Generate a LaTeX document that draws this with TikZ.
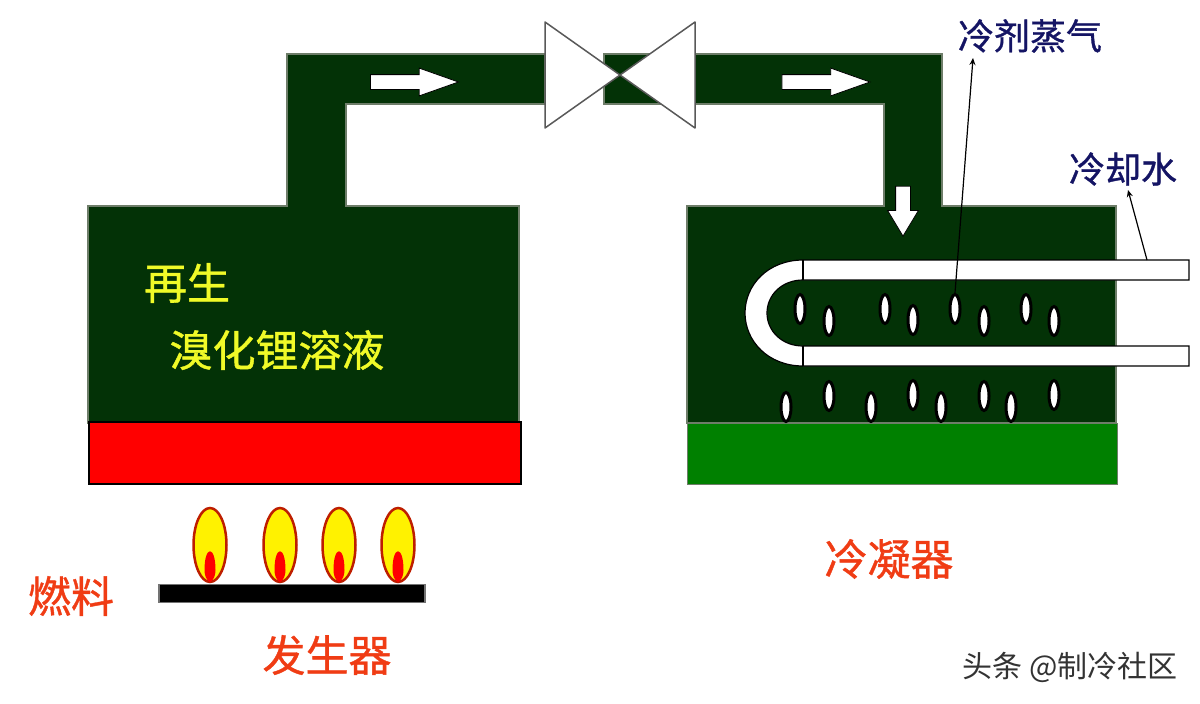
\documentclass[tikz,border=0pt]{standalone}
\usepackage{fontspec}
\setmainfont[FakeBold=0.9]{Noto Sans CJK SC}
\newfontfamily\markfont{Noto Sans CJK SC}
\usetikzlibrary{shapes.geometric,shapes.arrows,arrows.meta}
\definecolor{vapour}{RGB}{3,50,6}
\definecolor{edgegray}{RGB}{110,125,105}
\definecolor{waterg}{RGB}{0,128,0}
\definecolor{labelred}{RGB}{240,60,20}
\definecolor{labelblue}{RGB}{20,20,100}
\definecolor{labelyellow}{RGB}{240,250,40}
\definecolor{flameedge}{RGB}{190,30,0}
\tikzset{x=1pt,y=-1pt,
	tank/.style={draw=edgegray, line width=1.5, fill=vapour},
	bubble/.style={ellipse, draw=black, line width=3, fill=white, minimum width=10, minimum height=29, inner sep=0},
	flame/.style={ellipse, draw=flameedge, line width=2.5, fill=yellow, minimum width=33, minimum height=74, inner sep=0},
	flowarrow/.style={single arrow, fill=white, draw=black, line width=0.8, minimum height=88, minimum width=27, single arrow head extend=6.5, single arrow tip angle=39, inner xsep=0, inner ysep=7},
	redtext/.style={text=labelred, font=\fontsize{43}{43}\selectfont},
	bluetext/.style={text=labelblue, font=\fontsize{36}{36}\selectfont},
	yellowtext/.style={text=labelyellow, font=\fontsize{43}{43}\selectfont},
	leader/.style={-{Stealth[length=7,width=6]}, line width=1.2, black}
}
\begin{document}
\begin{tikzpicture}
	\useasboundingbox (0,0) rectangle (1200,704);
	\fill[white] (0,0) rectangle (1200,704);
	\draw[tank] (88,423) -- (88,206) -- (287,206) -- (287,54) -- (545,54) -- (545,104) -- (346,104) -- (346,206) -- (519,206) -- (519,423) -- cycle;
	\draw[tank] (687,423) -- (687,206) -- (884,206) -- (884,104) -- (695,104) -- (695,54) -- (942,54) -- (942,206) -- (1116,206) -- (1116,423) -- cycle;
	\draw[tank] (604,54) rectangle (665,104);
	\node[draw=black, line width=1.5, fill=red, minimum width=432, minimum height=62, inner sep=0] (heat) at (305,453) {};
	\node[draw=edgegray, fill=waterg, minimum width=430, minimum height=61, inner sep=0] (water) at (902,453.5) {};
	% valve
	\draw[draw=black!65, line width=1.5, fill=white, line join=round] (545,22) -- (620,75) -- (545,128) -- cycle;
	\draw[draw=black!65, line width=1.5, fill=white, line join=round] (695,22) -- (620,75) -- (695,128) -- cycle;
	\node[flowarrow] (flowa) at (404,82) {};
	\node[flowarrow] (flowb) at (815.5,82) {};
	\node[flowarrow, rotate=-90, minimum height=50, minimum width=29, single arrow head extend=8, single arrow tip angle=62] (flowc) at (903,205) {};
	% tube
	\draw[draw=black, line width=1.2, fill=white] (1189,260) -- (803,260) .. controls (768,260) and (745,285) .. (745,313) .. controls (745,341) and (768,366) .. (803,366) -- (1189,366) -- (1189,346) -- (803,346) .. controls (782,346) and (767,331) .. (767,313) .. controls (767,295) and (782,280) .. (803,280) -- (1189,280) -- cycle;
	\draw[draw=black, line width=1.2] (803,260) -- (803,280) (803,346) -- (803,366);
	\foreach \name/\xx/\yy in {pa/800/309,pb/829/321,pc/885/309,pd/913/320,pe/955/309,pf/984/321,pg/1026/309,ph/1054/321,qa/786/407,qb/829/396,qc/871/407,qd/913/395,qe/941/407,qf/984/396,qg/1011/407,qh/1054/395}
		\node[bubble] (\name) at (\xx,\yy) {};
	% burner
	\node[draw=black!55, line width=1.5, fill=black, minimum width=266, minimum height=18, inner sep=0] (burner) at (292,593.5) {};
	\foreach \xx [count=\i] in {210,280,339,398}{
		\node[flame] (flame\i) at (\xx,545) {};
		\fill[red] (\xx-5.5,570) .. controls (\xx-5.5,545) and (\xx+5.5,545) .. (\xx+5.5,570) .. controls (\xx+5.5,575) and (\xx+4,580) .. (\xx,582) .. controls (\xx-4,580) and (\xx-5.5,575) .. (\xx-5.5,570) -- cycle;
	}
	% labels
	\node[yellowtext] (regen) at (187,283) {再生};
	\node[yellowtext] (libr) at (277,350) {溴化锂溶液};
	\node[redtext] (fuel) at (71,596) {燃料};
	\node[redtext] (generator) at (327,655) {发生器};
	\node[redtext] (condenser) at (889,559) {冷凝器};
	\node[bluetext] (steam) at (1030,36) {冷剂蒸气};
	\node[bluetext] (coolant) at (1123,169) {冷却水};
	\node[text=black!80, font=\markfont\fontsize{30}{30}\selectfont] (mark) at (1070,667) {头条 @制冷社区};
	\coordinate (steamtip) at (973,58);
	\coordinate (cooltip) at (1128,190);
	\coordinate (tubeout) at (1147,260);
	\draw[leader] (pe.north) -- (steamtip);
	\draw[leader] (tubeout) -- (cooltip);
\end{tikzpicture}
\end{document}
